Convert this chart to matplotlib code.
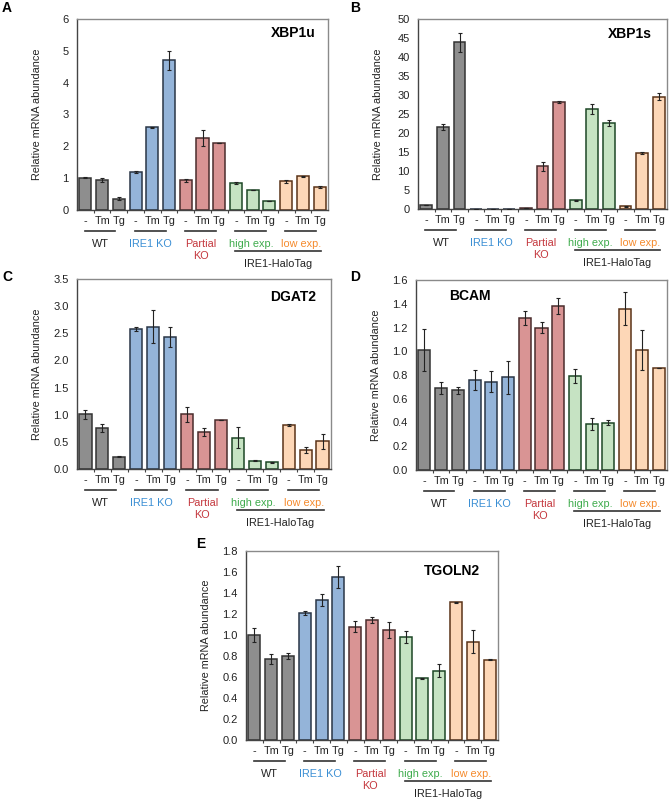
import matplotlib
matplotlib.use("Agg")
import matplotlib.pyplot as plt
import numpy as np

plt.rcParams['font.family'] = ['Liberation Sans', 'DejaVu Sans']

conditions = ["-", "Tm", "Tg"]
groups = ["WT", "IRE1 KO", "Partial\nKO", "high exp.", "low exp."]
group_text_colors = ["#222222", "#3b8fd4", "#c4373d", "#3dab4b", "#f58a2c"]
bar_fill = ["#8e8e8e", "#94b4d9", "#d99494", "#c6e3c3", "#fdd7b7"]
bar_edge = ["#333333", "#2a3646", "#4a2c2c", "#1d4726", "#5a3318"]

# gene: (values, errors)
xbp1u = [1.01, 0.93, 0.36, 1.20, 2.60, 4.70, 0.93, 2.26, 2.11, 0.85, 0.64, 0.29, 0.90, 1.06, 0.72]
xbp1u_err = [0.02, 0.06, 0.04, 0.04, 0.02, 0.30, 0.05, 0.24, 0.0, 0.02, 0.0, 0.0, 0.05, 0.02, 0.02]

xbp1s = [1.05, 21.5, 43.9, 0.05, 0.08, 0.05, 0.2, 11.2, 28.1, 2.3, 26.4, 22.7, 0.7, 14.8, 29.6]
xbp1s_err = [0.1, 0.8, 2.5, 0.0, 0.0, 0.0, 0.05, 1.1, 0.3, 0.1, 1.3, 0.8, 0.05, 0.2, 1.0]

dgat2 = [1.01, 0.76, 0.23, 2.58, 2.62, 2.43, 1.01, 0.68, 0.90, 0.58, 0.15, 0.12, 0.81, 0.35, 0.51]
dgat2_err = [0.08, 0.07, 0.01, 0.04, 0.30, 0.19, 0.14, 0.08, 0.0, 0.19, 0.01, 0.01, 0.01, 0.06, 0.14]

bcam = [1.01, 0.69, 0.67, 0.76, 0.745, 0.78, 1.28, 1.20, 1.38, 0.79, 0.39, 0.40, 1.36, 1.01, 0.86]
bcam_err = [0.175, 0.05, 0.03, 0.085, 0.085, 0.14, 0.06, 0.05, 0.065, 0.06, 0.05, 0.02, 0.135, 0.17, 0.0]

tgoln2 = [1.00, 0.77, 0.80, 1.21, 1.335, 1.55, 1.08, 1.14, 1.05, 0.98, 0.586, 0.66, 1.31, 0.935, 0.765]
tgoln2_err = [0.065, 0.045, 0.03, 0.02, 0.055, 0.105, 0.055, 0.03, 0.075, 0.06, 0.005, 0.06, 0.005, 0.11, 0.005]

W, H = 669, 799
fig = plt.figure(figsize=(W/100, H/100), dpi=100)

def px_axes(left, right, top, bottom):
    return fig.add_axes([left/W, (H-bottom)/H, (right-left)/W, (bottom-top)/H])

panels = [
    # letter, letter pos, axes px, gene, values, errors, ymax, ystep, fmt, title pos, align
    ("A", (2, 12), (77, 328, 19, 210), "XBP1u", xbp1u, xbp1u_err, 6, 1, "%d", (0.95, 0.925), "right"),
    ("B", (350, 12), (418, 667, 19, 209), "XBP1s", xbp1s, xbp1s_err, 50, 5, "%d", (0.94, 0.92), "right"),
    ("C", (2, 281), (77, 331, 279, 469), "DGAT2", dgat2, dgat2_err, 3.5, 0.5, "%.1f", (0.94, 0.905), "right"),
    ("D", (350, 281), (416, 667, 280, 470), "BCAM", bcam, bcam_err, 1.6, 0.2, "%.1f", (0.13, 0.915), "left"),
    ("E", (196, 548), (246, 498, 551, 740), "TGOLN2", tgoln2, tgoln2_err, 1.8, 0.2, "%.1f", (0.93, 0.895), "right"),
]

x = np.arange(15)
fills = [bar_fill[i // 3] for i in x]
edges = [bar_edge[i // 3] for i in x]

for letter, lpos, box, gene, vals, errs, ymax, ystep, fmt, tpos, align in panels:
    left, right, top, bottom = box
    ax = px_axes(left, right, top, bottom)
    hpx = bottom - top
    fig.text(lpos[0]/W, 1 - lpos[1]/H, letter, fontsize=10, fontweight="bold",
             ha="left", va="baseline")

    ax.bar(x, vals, width=0.72, color=fills, edgecolor=edges, linewidth=1.1, zorder=2)
    ax.errorbar(x, vals, yerr=errs, fmt="none", ecolor="#222222", elinewidth=0.8,
                capsize=1.5, capthick=0.8, zorder=3)

    ax.set_xlim(-0.5, 14.5)
    ax.set_ylim(0, ymax)
    ticks = np.arange(0, ymax + ystep/2, ystep)
    ax.set_yticks(ticks)
    ax.set_yticklabels([fmt % t for t in ticks], fontsize=8, color="#222222")
    ax.tick_params(axis="y", direction="out", length=0, pad=6)
    ax.set_xticks(np.arange(0.5, 14.5, 1.0))
    ax.set_xticklabels([])
    ax.tick_params(axis="x", direction="out", length=2.5, width=0.8, color="#444444")
    ax.set_ylabel("Relative mRNA abundance", fontsize=7.8, color="#222222")
    ax.yaxis.set_label_coords(-35/(right - left), 0.5)
    for s in ["left", "bottom"]:
        ax.spines[s].set_color("#444444")
        ax.spines[s].set_linewidth(1.0)
    for s in ["top", "right"]:
        ax.spines[s].set_color("#8a8a8a")
        ax.spines[s].set_linewidth(1.0)

    ax.text(tpos[0], tpos[1], gene, transform=ax.transAxes, fontsize=10,
            fontweight="bold", ha=align, va="center")

    tr = ax.get_xaxis_transform()
    for i in x:
        ax.text(i, -11/hpx, conditions[i % 3], transform=tr, fontsize=7.8,
                ha="center", va="center", color="#222222")
    for g, name in enumerate(groups):
        ax.plot([g*3 - 0.05, g*3 + 1.8], [-21/hpx, -21/hpx], transform=tr,
                color="#333333", lw=1.2, clip_on=False)
        ax.text(g*3 + 0.9, -29/hpx, name, transform=tr, fontsize=7.8,
                ha="center", va="top", color=group_text_colors[g], linespacing=1.25)
    ax.plot([9 - 0.05, 14.1], [-41/hpx, -41/hpx], transform=tr,
            color="#333333", lw=1.2, clip_on=False)
    ax.text(11.5, -49/hpx, "IRE1-HaloTag", transform=tr, fontsize=7.8,
            ha="center", va="top", color="#222222")

fig.savefig("out.png", dpi=100)
